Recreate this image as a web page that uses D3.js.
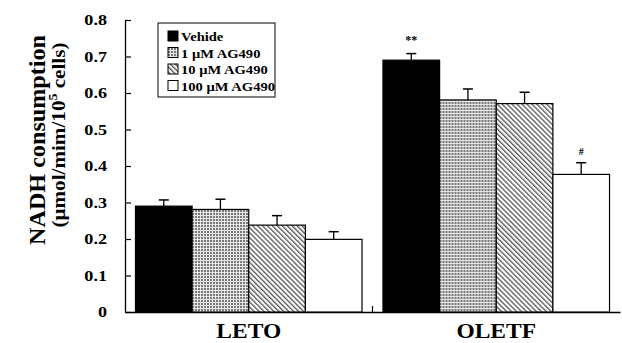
<!DOCTYPE html>
<html>
<head>
<meta charset="utf-8">
<script src="https://cdn.jsdelivr.net/npm/d3@7"></script>
<style>
  body { margin: 0; background: #fff; }
  svg { display: block; font-family: "Liberation Serif", "Times New Roman", serif; font-weight: bold; }
</style>
</head>
<body>
<svg width="622" height="343"></svg>
<script>
// Data
const groups = ["LETO", "OLETF"];
const treatments = ["Vehide", "1 \u03bcM AG490", "10 \u03bcM AG490", "100 \u03bcM AG490"];
const means = [
  [0.290, 0.281, 0.238, 0.199],
  [0.690, 0.581, 0.571, 0.377]
];
const errors = [
  [0.017, 0.028, 0.026, 0.021],
  [0.018, 0.030, 0.031, 0.032]
];
const marks = [
  ["", "", "", ""],
  ["**", "", "", "#"]
];
const yTicks = [0, 0.1, 0.2, 0.3, 0.4, 0.5, 0.6, 0.7, 0.8];

let margin = { left: 125, right: 2, top: 20, bottom: 31 };
let W = 622, H = 343;
let w = W - margin.left - margin.right;
let h = H - margin.top - margin.bottom;

let svg = d3.select("svg");

// Patterns
let defs = svg.append("defs");
let grid = defs.append("pattern")
  .attr("id", "grid")
  .attr("patternUnits", "userSpaceOnUse")
  .attr("width", 3).attr("height", 3);
grid.append("rect").attr("width", 3).attr("height", 3).attr("fill", "#7a7a7a");
grid.append("rect").attr("x", 0).attr("y", 0).attr("width", 1).attr("height", 3).attr("fill", "#e6e6e6");
grid.append("rect").attr("x", 0).attr("y", 0).attr("width", 3).attr("height", 1).attr("fill", "#e6e6e6");

let hatch = defs.append("pattern")
  .attr("id", "hatch")
  .attr("patternUnits", "userSpaceOnUse")
  .attr("width", 3.5).attr("height", 3.5)
  .attr("patternTransform", "rotate(-45)");
hatch.append("rect").attr("width", 3.5).attr("height", 3.5).attr("fill", "#fff");
hatch.append("rect").attr("x", 0).attr("y", 0).attr("width", 1.3).attr("height", 3.5).attr("fill", "#555");

const fills = ["#000", "url(#grid)", "url(#hatch)", "#fff"];

let g = svg.append("g").attr("transform", `translate(${margin.left},${margin.top})`);

// Scales
let x0 = d3.scaleBand().domain(groups).range([0, w]).paddingInner(0).paddingOuter(0);
let x1 = d3.scaleBand().domain(treatments).range([0, x0.bandwidth()]).paddingInner(0).paddingOuter(0.185);
let y = d3.scaleLinear().domain([0, 0.8]).range([h, 0]);

// Y axis
let yAxis = d3.axisLeft(y).tickValues(yTicks)
  .tickFormat(d => d === 0 ? "0" : d3.format(".1f")(d))
  .tickSizeInner(-6).tickSizeOuter(0);
let ya = g.append("g").call(yAxis);
ya.select(".domain").attr("stroke", "#000").attr("stroke-width", 1.3);
ya.selectAll(".tick line").attr("stroke", "#000").attr("stroke-width", 1.2);
ya.selectAll(".tick text")
  .attr("x", 0)
  .attr("transform", "translate(-18,0) scale(1.25,1)")
  .attr("font-size", 14.5).attr("font-weight", "bold")
  .attr("font-family", "Liberation Serif, serif").attr("fill", "#000");

// X axis
let xAxis = d3.axisBottom(x0).tickSize(0).tickSizeOuter(0);
let xa = g.append("g").attr("transform", `translate(0,${h})`).call(xAxis);
xa.select(".domain").attr("stroke", "#000").attr("stroke-width", 1.3);
xa.selectAll(".tick text")
  .attr("y", 0).attr("dy", 0)
  .attr("transform", "translate(0,26) scale(1.12,1)")
  .attr("font-size", 21).attr("font-weight", "bold")
  .attr("font-family", "Liberation Serif, serif").attr("fill", "#000");
// separator tick between groups
g.append("line")
  .attr("x1", x0.bandwidth()).attr("x2", x0.bandwidth())
  .attr("y1", h).attr("y2", h - 6)
  .attr("stroke", "#000").attr("stroke-width", 1.2);

// Bars
groups.forEach((grp, gi) => {
  let gg = g.append("g").attr("transform", `translate(${x0(grp)},0)`);
  treatments.forEach((t, ti) => {
    let v = means[gi][ti], e = errors[gi][ti];
    let bx = x1(t), bw = x1.bandwidth();
    let cx = bx + bw / 2;
    // error bar
    gg.append("line").attr("x1", cx).attr("x2", cx).attr("y1", y(v)).attr("y2", y(v + e))
      .attr("stroke", "#000").attr("stroke-width", 1.3);
    gg.append("line").attr("x1", cx - 5).attr("x2", cx + 5).attr("y1", y(v + e)).attr("y2", y(v + e))
      .attr("stroke", "#000").attr("stroke-width", 1.5);
    gg.append("rect")
      .attr("x", bx).attr("y", y(v))
      .attr("width", bw).attr("height", h - y(v))
      .attr("fill", fills[ti])
      .attr("stroke", "#000").attr("stroke-width", 1.2);
    if (marks[gi][ti]) {
      gg.append("text")
        .attr("x", cx).attr("y", y(v + e) - (marks[gi][ti] === "#" ? 8 : 10))
        .attr("text-anchor", "middle")
        .attr("font-size", marks[gi][ti] === "#" ? 10 : 12)
        .text(marks[gi][ti]);
    }
  });
});

// Legend
let legend = svg.append("g").attr("transform", "translate(158,23)");
legend.append("rect").attr("width", 117).attr("height", 74)
  .attr("fill", "#fff").attr("stroke", "#000").attr("stroke-width", 1);
treatments.forEach((t, i) => {
  let ly = 8 + i * 16.5;
  legend.append("rect").attr("x", 10).attr("y", ly).attr("width", 10).attr("height", 10)
    .attr("fill", fills[i]).attr("stroke", "#000").attr("stroke-width", 1);
  legend.append("text")
    .attr("transform", `translate(23,${ly + 10}) scale(1.12,1)`)
    .attr("font-size", 13).text(t);
});

// Y title
svg.append("text")
  .attr("transform", "translate(45,140) rotate(-90)")
  .attr("text-anchor", "middle").attr("font-size", 23)
  .attr("textLength", 210).attr("lengthAdjust", "spacingAndGlyphs")
  .text("NADH consumption");
let yt2 = svg.append("text")
  .attr("transform", "translate(65,135) rotate(-90)")
  .attr("text-anchor", "middle").attr("font-size", 18)
  .attr("textLength", 185).attr("lengthAdjust", "spacingAndGlyphs");
yt2.append("tspan").text("(\u03bcmol/mim/10");
yt2.append("tspan").attr("font-size", 12).attr("dy", -8).text("5");
yt2.append("tspan").attr("dy", 8).text(" cells)");
</script>
</body>
</html>
